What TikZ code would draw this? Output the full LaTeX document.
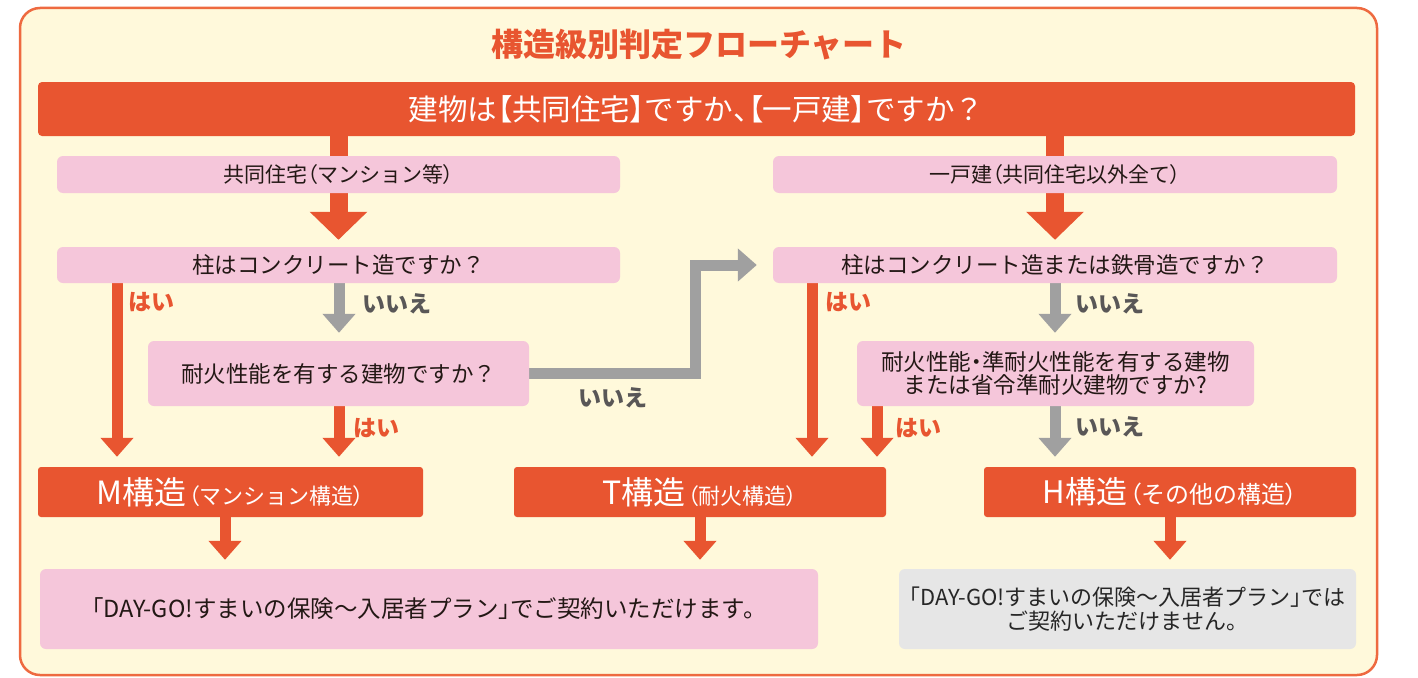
\documentclass[tikz,border=0pt]{standalone}
\usepackage{fontspec}
\setmainfont{Noto Sans CJK JP}
\newfontfamily\palfont[RawFeature=+palt]{Noto Sans CJK JP}
\newcommand{\pp}[1]{{\palfont #1}}
\usetikzlibrary{arrows.meta}
\pgfdeclarelayer{bg}
\pgfdeclarelayer{arr}
\pgfsetlayers{bg,arr,main}
\definecolor{org}{HTML}{E85530}
\definecolor{frameor}{HTML}{EE6A40}
\definecolor{cream}{HTML}{FFF9DB}
\definecolor{pinkb}{HTML}{F5C6DA}
\definecolor{greya}{HTML}{A0A0A0}
\definecolor{greyt}{HTML}{595757}
\definecolor{greyb}{HTML}{E6E6E6}
\definecolor{txt}{HTML}{231815}
\newcommand{\fs}[1]{\fontsize{#1}{#1}\selectfont}
\tikzset{
  pinkbox/.style={fill=pinkb, rounded corners=6pt, inner sep=0pt, text=txt, font=\fs{22.5}, align=center},
  orgbox/.style={fill=org, rounded corners=3pt, inner sep=0pt, text=white, minimum height=50pt},
  fatarrow/.style={draw=org, line width=18pt, -{Triangle[width=56pt,length=28pt]}},
  oarrow/.style={draw=org, line width=11pt, -{Triangle[width=32pt,length=19pt]}},
  garrow/.style={draw=greya, line width=11pt, -{Triangle[width=32pt,length=19pt]}},
  yeslbl/.style={text=org, font=\bfseries\fs{23}, inner sep=0pt},
  nolbl/.style={text=greyt, font=\bfseries\fs{23}, inner sep=0pt},
}
\begin{document}
\begin{tikzpicture}[x=1pt,y=-1pt]
\useasboundingbox (0,0) rectangle (1418,677);
\begin{pgfonlayer}{bg}
\draw[draw=frameor, line width=2.5pt, fill=cream, rounded corners=20pt] (20,8) rectangle (1377,675);
\end{pgfonlayer}

\node[text=org, font=\bfseries\fs{32}] (title) at (699,45) {構造級別判定フローチャート};

\node[fill=org, rounded corners=4pt, minimum width=1317pt, minimum height=54pt, inner sep=0pt, text=white, font=\fs{29.5}] (top) at (696.5,109) {建物は\pp{【}共同住宅\pp{】}ですか\pp{、【}一戸建\pp{】}ですか？};

\node[pinkbox, font=\fs{21}, minimum width=563pt, minimum height=37pt] (p1L) at (338.5,174.5) {共同住宅\pp{（}マンション等\pp{）}};
\node[pinkbox, font=\fs{21}, minimum width=564pt, minimum height=37pt] (p1R) at (1055,174.5) {一戸建\pp{（}共同住宅以外全て\pp{）}};

\node[pinkbox, minimum width=563pt, minimum height=36pt] (q1L) at (338.5,265) {柱はコンクリート造ですか？};
\node[pinkbox, minimum width=564pt, minimum height=36pt] (q1R) at (1055,265) {柱はコンクリート造または鉄骨造ですか？};

\node[pinkbox, minimum width=381pt, minimum height=65pt] (q2L) at (338.5,373.5) {耐火性能を有する建物ですか？};
\node[pinkbox, minimum width=397pt, minimum height=65pt] (q2R) at (1055.5,373.5) {耐火性能\pp{・}準耐火性能を有する建物\\[1pt]または省令準耐火建物ですか?};

\node[orgbox, minimum width=385pt] (M) at (230.5,492) {\fs{32}M構造\hspace{2pt}\fs{22}\pp{（}マンション構造\pp{）}};
\node[orgbox, minimum width=372pt] (T) at (700,492) {\fs{32}T構造\hspace{2pt}\fs{22}\pp{（}耐火構造\pp{）}};
\node[orgbox, minimum width=372pt] (H) at (1170,492) {\fs{31}H構造\hspace{2pt}\fs{24}\pp{（}その他の構造\pp{）}};

\node[pinkbox, font=\fs{23.5}, minimum width=778pt, minimum height=80pt] (ok) at (429,609) {\pp{「}DAY-GO!すまいの保険～入居者プラン\pp{」}でご契約いただけます。};
\node[pinkbox, font=\fs{22}, fill=greyb, text=black!85, minimum width=457pt, minimum height=80pt] (ng) at (1127.5,609) {\pp{「}DAY-GO!すまいの保険～入居者プラン\pp{」}では\\[2pt]ご契約いただけません。};

\coordinate (xa) at (117,0);
\coordinate (xb) at (339,0);
\coordinate (xc) at (812,0);
\coordinate (xd) at (877,0);
\coordinate (xe) at (1055,0);
\coordinate (xm) at (225,0);

\begin{pgfonlayer}{arr}
\draw[fatarrow, shorten >=7pt] (top.south -| p1L) -- (q1L.north -| p1L);
\draw[fatarrow, shorten >=7pt] (top.south -| p1R) -- (q1R.north -| p1R);
\draw[oarrow, shorten >=10pt] (q1L.south -| xa) -- (M.north -| xa);
\draw[garrow, shorten >=8pt] (q1L.south -| xb) -- (q2L.north -| xb);
\draw[oarrow, shorten >=10pt] (q2L.south -| xb) -- (M.north -| xb);
\draw[garrow, shorten >=16pt, line join=miter] (q2L.east) -- ++(166,0) |- (q1R.west);
\draw[oarrow, shorten >=10pt] (q1R.south -| xc) -- (T.north -| xc);
\draw[garrow, shorten >=8pt] (q1R.south -| xe) -- (q2R.north -| xe);
\draw[oarrow, shorten >=10pt] (q2R.south -| xd) -- (T.north -| xd);
\draw[garrow, shorten >=10pt] (q2R.south -| xe) -- (H.north -| xe);
\draw[oarrow, shorten >=9pt] (M.south -| xm) -- (ok.north -| xm);
\draw[oarrow, shorten >=9pt] (T.south) -- (ok.north -| T);
\draw[oarrow, shorten >=9pt] (H.south) -- (ng.north -| H);
\end{pgfonlayer}

\node[yeslbl] (y1) at (151,302) {はい};
\node[nolbl] (n1) at (397,304) {いいえ};
\node[yeslbl] (y2) at (376,428) {はい};
\node[nolbl] (n2) at (613,398) {いいえ};
\node[yeslbl] (y3) at (848,302) {はい};
\node[nolbl] (n3) at (1110,304) {いいえ};
\node[yeslbl] (y4) at (918,428) {はい};
\node[nolbl] (n4) at (1110,427) {いいえ};
\end{tikzpicture}
\end{document}
